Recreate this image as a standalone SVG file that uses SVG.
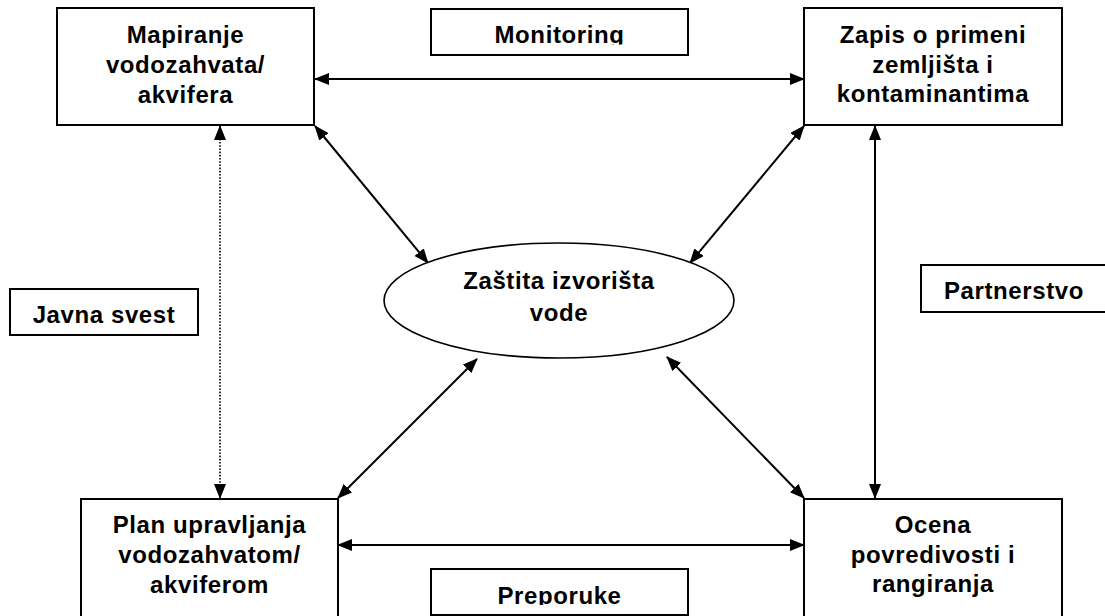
<svg xmlns="http://www.w3.org/2000/svg" width="1105" height="616" viewBox="0 0 1105 616">
  <style>
    .box { fill: #fff; stroke: #000; stroke-width: 2; }
    .lbl { font-family: "Liberation Sans", Arial, sans-serif; font-weight: bold; font-size: 24px; fill: #000; text-anchor: middle; letter-spacing: 0.6px; }
    .link { fill: none; stroke: #000; stroke-width: 2; marker-start: url(#tip); marker-end: url(#tip); }
    .dots { stroke-width: 1.6; stroke-dasharray: 1.6 1.6; }
  </style>
  <defs>
    <marker id="tip" viewBox="0 0 15 12" refX="14" refY="6" markerWidth="15" markerHeight="12" markerUnits="userSpaceOnUse" orient="auto-start-reverse">
      <path d="M0,0 L15,6 L0,12 z" fill="#000"/>
    </marker>
    <clipPath id="clipMon"><rect x="431" y="9" width="257" height="35.5"/></clipPath>
    <clipPath id="clipPre"><rect x="431" y="569" width="257" height="36"/></clipPath>
  </defs>
  <rect width="1105" height="616" fill="#fff"/>

  <!-- connectors -->
  <g id="connectors">
    <line class="link" x1="315" y1="79" x2="804" y2="79"/>
    <line class="link" x1="338" y1="545" x2="804" y2="545"/>
    <line class="link" x1="875" y1="126" x2="875" y2="498"/>
    <line class="link dots" x1="220" y1="126" x2="220" y2="498"/>
    <line class="link" x1="315" y1="126" x2="428" y2="263"/>
    <line class="link" x1="804" y1="126" x2="690" y2="263"/>
    <line class="link" x1="338" y1="498" x2="477" y2="359"/>
    <line class="link" x1="804" y1="498" x2="667" y2="357"/>
  </g>

  <g id="mapiranje">
    <rect class="box" x="57" y="8" width="257" height="117"/>
    <text class="lbl" x="185.5" y="43">Mapiranje</text>
    <text class="lbl" x="185.5" y="73">vodozahvata/</text>
    <text class="lbl" x="185.5" y="103">akvifera</text>
  </g>

  <g id="monitoring">
    <rect class="box" x="431" y="9" width="257" height="46"/>
    <text class="lbl" x="559.5" y="43" clip-path="url(#clipMon)">Monitoring</text>
  </g>

  <g id="zapis">
    <rect class="box" x="804" y="8" width="258" height="117"/>
    <text class="lbl" x="933" y="43">Zapis o primeni</text>
    <text class="lbl" x="933" y="73">zemljišta i</text>
    <text class="lbl" x="933" y="102">kontaminantima</text>
  </g>

  <g id="javna-svest">
    <rect class="box" x="10" y="289" width="188" height="46"/>
    <text class="lbl" x="104" y="323">Javna svest</text>
  </g>

  <g id="zastita">
    <ellipse cx="559" cy="300.5" rx="175" ry="57.5" fill="#fff" stroke="#000" stroke-width="1.6"/>
    <text class="lbl" x="559" y="289">Zaštita izvorišta</text>
    <text class="lbl" x="559" y="321">vode</text>
  </g>

  <g id="partnerstvo">
    <rect class="box" x="921" y="265" width="190" height="47"/>
    <text class="lbl" x="1014" y="299">Partnerstvo</text>
  </g>

  <g id="plan">
    <rect class="box" x="81" y="499" width="257" height="120"/>
    <text class="lbl" x="209.5" y="533">Plan upravljanja</text>
    <text class="lbl" x="209.5" y="563">vodozahvatom/</text>
    <text class="lbl" x="209.5" y="593">akviferom</text>
  </g>

  <g id="preporuke">
    <rect class="box" x="431" y="569" width="257" height="46"/>
    <text class="lbl" x="559.5" y="604" clip-path="url(#clipPre)">Preporuke</text>
  </g>

  <g id="ocena">
    <rect class="box" x="804" y="499" width="258" height="120"/>
    <text class="lbl" x="933" y="533">Ocena</text>
    <text class="lbl" x="933" y="563">povredivosti i</text>
    <text class="lbl" x="933" y="592">rangiranja</text>
  </g>
</svg>
